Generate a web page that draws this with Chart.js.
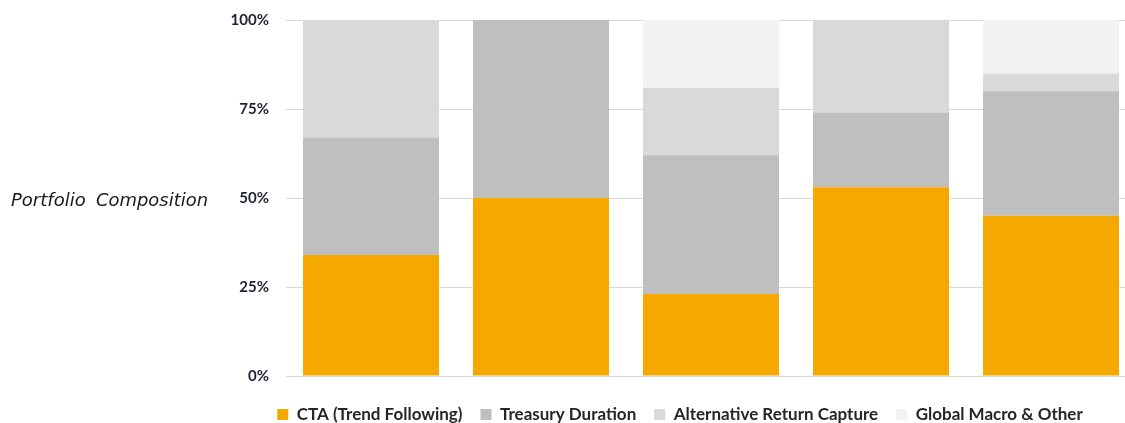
<!DOCTYPE html>
<html>
<head>
<meta charset="utf-8">
<script src="https://cdn.jsdelivr.net/npm/chart.js@4"></script>
<style>
  html, body { margin: 0; padding: 0; background: #fff; overflow: hidden; }
  #wrap { width: 1140px; height: 433px; position: relative; }
</style>
</head>
<body>
<div id="wrap"><canvas id="compChart"></canvas></div>
<script>
// portfolio sleeves, one bar each (no x labels in the original)
var categories = ['Portfolio 1', 'Portfolio 2', 'Portfolio 3', 'Portfolio 4', 'Portfolio 5'];

var ctaTrend      = [34, 50, 23, 53, 45];
var treasuryDur   = [33, 50, 39, 21, 35];
var altReturn     = [33, 0, 19, 26, 5];
var globalMacro   = [0, 0, 19, 0, 15];

var yTicks = [0, 25, 50, 75, 100];

// horizontal y-axis caption to the left of the ticks
var sideTitle = {
  id: 'sideTitle',
  afterDraw: function(chart) {
    var c = chart.ctx;
    c.save();
    c.fillStyle = '#1a1a1a';
    c.font = 'italic 18px "DejaVu Sans"';
    c.textBaseline = 'alphabetic';
    c.fillText('Portfolio', 11, 206, 76);
    c.fillText('Composition', 96, 206, 112);
    c.restore();
  }
};

var ctx = document.getElementById('compChart').getContext('2d');
var compChart = new Chart(ctx, {
  type: 'bar',
  data: {
    labels: categories,
    datasets: [
      { label: 'CTA (Trend Following)', data: ctaTrend, backgroundColor: '#F5A800' },
      { label: 'Treasury Duration', data: treasuryDur, backgroundColor: '#BFBFBF' },
      { label: 'Alternative Return Capture', data: altReturn, backgroundColor: '#D9D9D9' },
      { label: 'Global Macro & Other', data: globalMacro, backgroundColor: '#F2F2F2' }
    ]
  },
  options: {
    responsive: true,
    maintainAspectRatio: false,
    animation: false,
    categoryPercentage: 1,
    barPercentage: 0.8,
    borderWidth: 0,
    layout: { padding: { left: 224, right: 4, top: 20, bottom: 0 } },
    plugins: {
      legend: {
        position: 'bottom',
        labels: {
          boxWidth: 11,
          boxHeight: 11,
          padding: 18,
          color: '#262626',
          font: { family: 'Lato', size: 17, weight: 'bold' }
        }
      },
      tooltip: {
        callbacks: {
          label: function(item) { return item.dataset.label + ': ' + item.raw + '%'; }
        }
      }
    },
    scales: {
      x: {
        stacked: true,
        grid: { display: false },
        border: { display: false },
        ticks: { display: false },
        afterFit: function(s) { s.height = 12; }
      },
      y: {
        stacked: true,
        min: 0,
        max: 100,
        afterFit: function(s) {
          s.width = 62;
          // tick padding is horizontal only here, keep it out of the top/bottom
          s.paddingTop = 9;
          s.paddingBottom = 9;
        },
        afterBuildTicks: function(s) { s.ticks = yTicks.map(function(v) { return { value: v }; }); },
        grid: { color: '#D9D9D9', lineWidth: 1, drawTicks: false },
        border: { display: false },
        ticks: {
          padding: 17,
          color: '#1f2233',
          font: { family: 'Lato', size: 15, weight: 'bold' },
          callback: function(v) { return v + '%'; }
        }
      }
    }
  },
  plugins: [sideTitle]
});
</script>
</body>
</html>
